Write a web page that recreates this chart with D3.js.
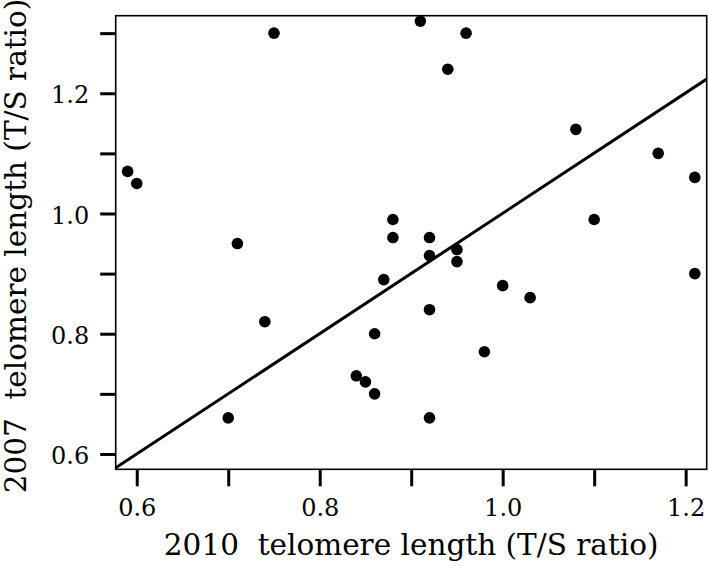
<!DOCTYPE html>
<html>
<head>
<meta charset="utf-8">
<script src="https://cdn.jsdelivr.net/npm/d3@7"></script>
<style>
  html, body { margin: 0; padding: 0; background: #fff; }
  svg { display: block; }
  text { font-family: "DejaVu Serif", serif; fill: #000; }
</style>
</head>
<body>
<svg id="chart" width="709" height="566"></svg>
<script>
// ---- data ----
const x2010 = [0.59, 0.60, 0.75, 0.71, 0.88, 0.88, 0.91, 0.96, 0.94, 1.08,
               1.17, 1.21, 0.92, 0.95, 0.87, 0.74, 0.86, 0.84, 0.85, 0.86,
               0.70, 0.92, 0.95, 1.00, 1.03, 0.92, 0.98, 0.92, 1.21, 1.10];
const y2007 = [1.07, 1.05, 1.30, 0.95, 0.99, 0.96, 1.32, 1.30, 1.24, 1.14,
               1.10, 1.06, 0.96, 0.94, 0.89, 0.82, 0.80, 0.73, 0.72, 0.70,
               0.66, 0.93, 0.92, 0.88, 0.86, 0.84, 0.77, 0.66, 0.90, 0.99];
const fitX = [0.577, 1.223];
const fitY = [0.577, 1.2235];
const xTicks = [0.6, 0.7, 0.8, 0.9, 1.0, 1.1, 1.2];
const xTickLabels = ["0.6", "", "0.8", "", "1.0", "", "1.2"];
const yTicks = [0.6, 0.7, 0.8, 0.9, 1.0, 1.1, 1.2, 1.3];
const yTickLabels = ["0.6", "", "0.8", "", "1.0", "", "1.2", ""];
const xTitle = "2010\u00a0 telomere length (T/S ratio)";
const yTitle = "2007\u00a0 telomere length (T/S ratio)";

// ---- layout ----
const L = 115.7, R = 706.7, T = 15.7, B = 469.3;
const svg = d3.select("#chart");

const x = d3.scaleLinear().domain([0.577, 1.223]).range([L, R]);
const y = d3.scaleLinear().domain([0.5745, 1.329]).range([B, T]);

svg.append("defs").append("clipPath").attr("id", "plotclip")
  .append("rect").attr("x", L).attr("y", T).attr("width", R - L).attr("height", B - T);

// frame
svg.append("rect")
  .attr("x", L).attr("y", T).attr("width", R - L).attr("height", B - T)
  .attr("fill", "none").attr("stroke", "#000").attr("stroke-width", 1.6);

// x axis
const xAxis = d3.axisBottom(x).tickValues(xTicks)
  .tickFormat((d, i) => xTickLabels[i]).tickSize(17).tickPadding(13);
const gx = svg.append("g").attr("transform", `translate(0,${B})`).call(xAxis);
gx.select(".domain").remove();
gx.selectAll(".tick line").attr("stroke", "#000").attr("stroke-width", 3);
gx.selectAll(".tick text").style("font-size", "24px").style("font-family", "DejaVu Serif, serif");

// y axis
const yAxis = d3.axisLeft(y).tickValues(yTicks)
  .tickFormat((d, i) => yTickLabels[i]).tickSize(15.5).tickPadding(11);
const gy = svg.append("g").attr("transform", `translate(${L},0)`).call(yAxis);
gy.select(".domain").remove();
gy.selectAll(".tick line").attr("stroke", "#000").attr("stroke-width", 3);
gy.selectAll(".tick text").style("font-size", "24px").style("font-family", "DejaVu Serif, serif")
  .attr("dy", "0.4em");

// fit line
const lineData = fitX.map((v, i) => [v, fitY[i]]);
svg.append("path")
  .datum(lineData)
  .attr("clip-path", "url(#plotclip)")
  .attr("d", d3.line().x(d => x(d[0])).y(d => y(d[1])))
  .attr("fill", "none").attr("stroke", "#000").attr("stroke-width", 3);

// points
const pts = x2010.map((v, i) => ({x: v, y: y2007[i]}));
svg.append("g").selectAll("circle").data(pts).join("circle")
  .attr("cx", d => x(d.x)).attr("cy", d => y(d.y)).attr("r", 5.8)
  .attr("fill", "#000");

// titles
svg.append("text")
  .attr("x", (L + R) / 2) .attr("y", 555)
  .attr("text-anchor", "middle").style("font-size", "29.5px")
  .text(xTitle);

svg.append("text")
  .attr("transform", `translate(26,246) rotate(-90)`)
  .attr("text-anchor", "middle").style("font-size", "29.5px")
  .text(yTitle);
</script>
</body>
</html>
